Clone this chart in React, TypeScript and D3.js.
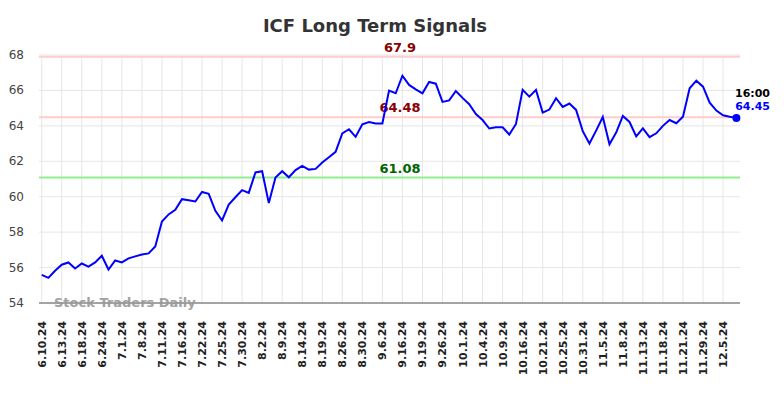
import React from 'react';
import * as d3 from 'd3';

// closing values, one per trading day
const prices = [
  55.59, 55.42, 55.82, 56.16, 56.29, 55.95, 56.23, 56.05, 56.29, 56.67,
  55.89, 56.40, 56.29, 56.52, 56.63, 56.74, 56.80, 57.19, 58.60, 59.00,
  59.26, 59.86, 59.80, 59.73, 60.27, 60.16, 59.20, 58.66, 59.56, 59.97,
  60.37, 60.22, 61.37, 61.44, 59.64, 61.08, 61.44, 61.10, 61.50, 61.74,
  61.53, 61.57, 61.93, 62.23, 62.53, 63.58, 63.81, 63.38, 64.09, 64.22,
  64.13, 64.13, 65.99, 65.84, 66.83, 66.31, 66.06, 65.84, 66.48, 66.38,
  65.35, 65.44, 65.97, 65.58, 65.22, 64.67, 64.33, 63.85, 63.92, 63.92,
  63.51, 64.11, 66.03, 65.65, 66.03, 64.75, 64.92, 65.56, 65.07, 65.26,
  64.90, 63.70, 63.00, 63.73, 64.50, 62.96, 63.62, 64.56, 64.22, 63.41,
  63.86, 63.36, 63.58, 64.00, 64.33, 64.15, 64.52, 66.12, 66.55, 66.21,
  65.31, 64.86, 64.60, 64.52, 64.45,
];

// one label for every third trading day
const tickLabels = [
  '6.10.24', '6.13.24', '6.18.24', '6.24.24', '7.1.24', '7.8.24', '7.11.24',
  '7.16.24', '7.22.24', '7.25.24', '7.30.24', '8.2.24', '8.9.24', '8.14.24',
  '8.19.24', '8.26.24', '8.30.24', '9.6.24', '9.16.24', '9.19.24', '9.26.24',
  '10.1.24', '10.4.24', '10.9.24', '10.16.24', '10.21.24', '10.25.24',
  '10.31.24', '11.5.24', '11.8.24', '11.13.24', '11.18.24', '11.21.24',
  '11.29.24', '12.5.24',
];

const yTicks = [54, 56, 58, 60, 62, 64, 66, 68];

const levels = [
  { value: 67.9, label: '67.9', line: '#ffcccc', text: '#8b0000' },
  { value: 64.48, label: '64.48', line: '#ffcccc', text: '#8b0000' },
  { value: 61.08, label: '61.08', line: '#90ee90', text: '#006400' },
];

const lastTime = '16:00';

export default function App() {
  const width = 784;
  const height = 398;
  const left = 39;
  const right = 740;
  const top = 55;
  const bottom = 303;

  const x = d3.scaleLinear().domain([0, prices.length - 1]).range([41.7, 736.4]);
  const y = d3.scaleLinear().domain([54, 68]).range([bottom, top]);

  const line = d3.line<number>()
    .x((d, i) => x(i))
    .y(d => y(d));

  const last = prices[prices.length - 1];
  const font = 'DejaVu Sans, sans-serif';

  return (
    <svg width={width} height={height}
      style={{ position: 'absolute', left: 0, top: 0, background: '#fff' }}
      fontFamily={font}>
      <text x={375} y={32} textAnchor="middle" fontSize={18} fontWeight="bold" fill="#333">
        ICF Long Term Signals
      </text>

      {/* grid */}
      {yTicks.map(t => (
        <line key={'h' + t} x1={left} x2={right} y1={y(t)} y2={y(t)} stroke="#e6e6e6" strokeWidth={1} />
      ))}
      {tickLabels.map((lab, k) => (
        <line key={'v' + lab} x1={x(k * 3)} x2={x(k * 3)} y1={top} y2={bottom} stroke="#e6e6e6" strokeWidth={1} />
      ))}

      {/* y labels */}
      {yTicks.map(t => (
        <text key={'yl' + t} x={24} y={y(t) + 4} textAnchor="end" fontSize={12} fill="#444">
          {t}
        </text>
      ))}

      {/* x labels */}
      {tickLabels.map((lab, k) => (
        <text key={'xl' + lab} transform={`translate(${x(k * 3) + 4},321) rotate(-90)`}
          textAnchor="end" fontSize={11} fontWeight="bold" fill="#222">
          {lab}
        </text>
      ))}

      {/* signal levels */}
      {levels.map(l => (
        <g key={l.label}>
          <line x1={left} x2={right} y1={y(l.value)} y2={y(l.value)} stroke={l.line} strokeWidth={2} />
          <text x={400} y={y(l.value) - 5} textAnchor="middle" fontSize={13} fontWeight="bold" fill={l.text}>
            {l.label}
          </text>
        </g>
      ))}

      <line x1={left} x2={right} y1={bottom} y2={bottom} stroke="#555" strokeWidth={1} />

      <text x={54} y={307} fontSize={13} fontWeight="bold" fill="#999" opacity={0.9}>
        Stock Traders Daily
      </text>

      <path d={line(prices) || ''} fill="none" stroke="#0000ff" strokeWidth={2} />
      <circle cx={x(prices.length - 1)} cy={y(last)} r={4} fill="#0000ff" />

      <text x={770} y={97} textAnchor="end" fontSize={11} fontWeight="bold" fill="#000">{lastTime}</text>
      <text x={770} y={110} textAnchor="end" fontSize={11} fontWeight="bold" fill="#0000ff">{last.toFixed(2)}</text>
    </svg>
  );
}
